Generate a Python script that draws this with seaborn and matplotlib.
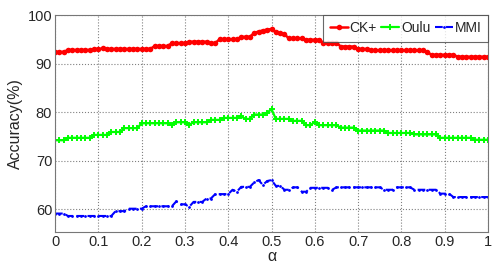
import numpy as np
import pandas as pd
import seaborn as sns
import matplotlib.pyplot as plt

# alpha 取 0~1，步长 0.01
alpha = np.linspace(0, 1, 101)

ck_plus = [92.4, 92.4, 92.4, 92.8, 92.8, 92.8, 92.8, 92.8, 92.8, 93.0,
           93.0, 93.1, 93.0, 93.0, 93.0, 93.0, 93.0, 93.0, 93.0, 93.0,
           93.0, 93.0, 93.0, 93.6, 93.6, 93.6, 93.6, 94.2, 94.2, 94.2,
           94.2, 94.5, 94.5, 94.5, 94.5, 94.5, 94.2, 94.2, 95.0, 95.0,
           95.0, 95.0, 95.0, 95.5, 95.5, 95.5, 96.3, 96.6, 96.8, 97.0,
           97.1, 96.4, 96.2, 96.0, 95.2, 95.2, 95.2, 95.2, 94.9, 94.9,
           94.9, 94.9, 94.3, 94.3, 94.3, 94.3, 93.5, 93.5, 93.5, 93.5,
           93.0, 93.0, 93.0, 92.7, 92.7, 92.7, 92.7, 92.7, 92.7, 92.7,
           92.7, 92.7, 92.7, 92.7, 92.7, 92.7, 92.3, 91.8, 91.8, 91.8,
           91.8, 91.8, 91.8, 91.4, 91.4, 91.4, 91.4, 91.4, 91.4, 91.4,
           91.4]

oulu = [74.2, 74.2, 74.2, 74.7, 74.7, 74.7, 74.7, 74.7, 74.7, 75.3,
        75.3, 75.3, 75.3, 75.9, 75.9, 75.9, 76.7, 76.7, 76.7, 76.7,
        77.7, 77.7, 77.7, 77.7, 77.7, 77.7, 77.7, 77.4, 77.9, 77.9,
        77.9, 77.4, 77.9, 77.9, 77.9, 77.9, 78.4, 78.4, 78.4, 78.8,
        78.8, 78.8, 78.8, 79.1, 78.6, 78.6, 79.5, 79.5, 79.5, 79.9,
        80.6, 78.6, 78.6, 78.6, 78.6, 78.2, 78.2, 78.2, 77.3, 77.3,
        78.0, 77.3, 77.3, 77.3, 77.3, 77.3, 76.8, 76.8, 76.8, 76.8,
        76.2, 76.2, 76.2, 76.2, 76.2, 76.2, 76.2, 75.7, 75.7, 75.7,
        75.7, 75.7, 75.7, 75.4, 75.4, 75.4, 75.4, 75.4, 75.4, 74.7,
        74.7, 74.7, 74.7, 74.7, 74.7, 74.7, 74.7, 74.3, 74.3, 74.3,
        74.3]

mmi = [59.1, 59.1, 59.1, 58.6, 58.6, 58.6, 58.6, 58.6, 58.6, 58.6,
       58.6, 58.6, 58.6, 58.6, 59.6, 59.6, 59.6, 60.1, 60.1, 60.1,
       60.1, 60.6, 60.6, 60.6, 60.6, 60.6, 60.6, 60.6, 61.6, 61.0,
       61.0, 60.5, 61.5, 61.5, 61.5, 62.2, 62.2, 63.1, 63.1, 63.1,
       63.1, 64.0, 63.6, 64.6, 64.6, 64.6, 65.5, 66.0, 65.0, 65.8,
       66.0, 64.8, 64.8, 64.0, 64.0, 64.5, 64.5, 63.6, 63.6, 64.4,
       64.4, 64.4, 64.4, 64.4, 64.0, 64.5, 64.5, 64.5, 64.5, 64.5,
       64.5, 64.5, 64.5, 64.5, 64.5, 64.5, 64.0, 64.0, 64.0, 64.5,
       64.5, 64.5, 64.5, 64.0, 64.0, 64.0, 64.0, 64.0, 64.0, 63.2,
       63.2, 63.2, 62.5, 62.5, 62.5, 62.5, 62.5, 62.5, 62.5, 62.5,
       62.5]

x_ticks = [0, 0.1, 0.2, 0.3, 0.4, 0.5, 0.6, 0.7, 0.8, 0.9, 1]
x_labels = ['0', '0.1', '0.2', '0.3', '0.4', '0.5', '0.6', '0.7', '0.8', '0.9', '1']
y_ticks = [60, 70, 80, 90, 100]

df = pd.DataFrame({'alpha': alpha, 'CK+': ck_plus, 'Oulu': oulu, 'MMI': mmi})

sns.set_style('white')
plt.rcParams['font.family'] = ['Liberation Sans', 'DejaVu Sans']

fig = plt.figure(figsize=(4.93, 2.66), dpi=100)
ax = fig.add_axes([55 / 493, 34 / 266, 433 / 493, 217 / 266])

sns.lineplot(data=df, x='alpha', y='CK+', ax=ax, color=(1, 0, 0), linewidth=1.8,
             marker='o', markersize=4, markeredgewidth=0, label='CK+')
sns.lineplot(data=df, x='alpha', y='Oulu', ax=ax, color=(0, 1, 0), linewidth=1.6,
             marker='+', markersize=4.5, markeredgewidth=1.4, markeredgecolor=(0, 1, 0),
             label='Oulu')
sns.lineplot(data=df, x='alpha', y='MMI', ax=ax, color=(0, 0, 1), linewidth=1.5,
             linestyle='--', marker='.', markersize=4, markeredgewidth=0, label='MMI')

ax.set_xlim(0, 1)
ax.set_ylim(55.3, 100)
ax.set_xticks(x_ticks)
ax.set_xticklabels(x_labels)
ax.set_yticks(y_ticks)
ax.tick_params(direction='in', length=3, labelsize=10.5, color='#555555', pad=2)
ax.grid(True, linestyle=':', color='#808080', linewidth=0.8)
for s in ax.spines.values():
    s.set_color('#777777')
    s.set_linewidth(0.8)

ax.set_xlabel('α', fontsize=11.5, labelpad=0)
ax.set_ylabel('Accuracy(%)', fontsize=11.5, labelpad=3)

leg = ax.legend(loc='upper right', ncol=3, fontsize=10, frameon=True, fancybox=False,
                borderaxespad=0, handlelength=1.3, handletextpad=0.15, columnspacing=0.3,
                borderpad=0.45)
leg.get_frame().set_edgecolor('#444444')
leg.get_frame().set_linewidth(0.8)

fig.savefig('out.png', dpi=100)
